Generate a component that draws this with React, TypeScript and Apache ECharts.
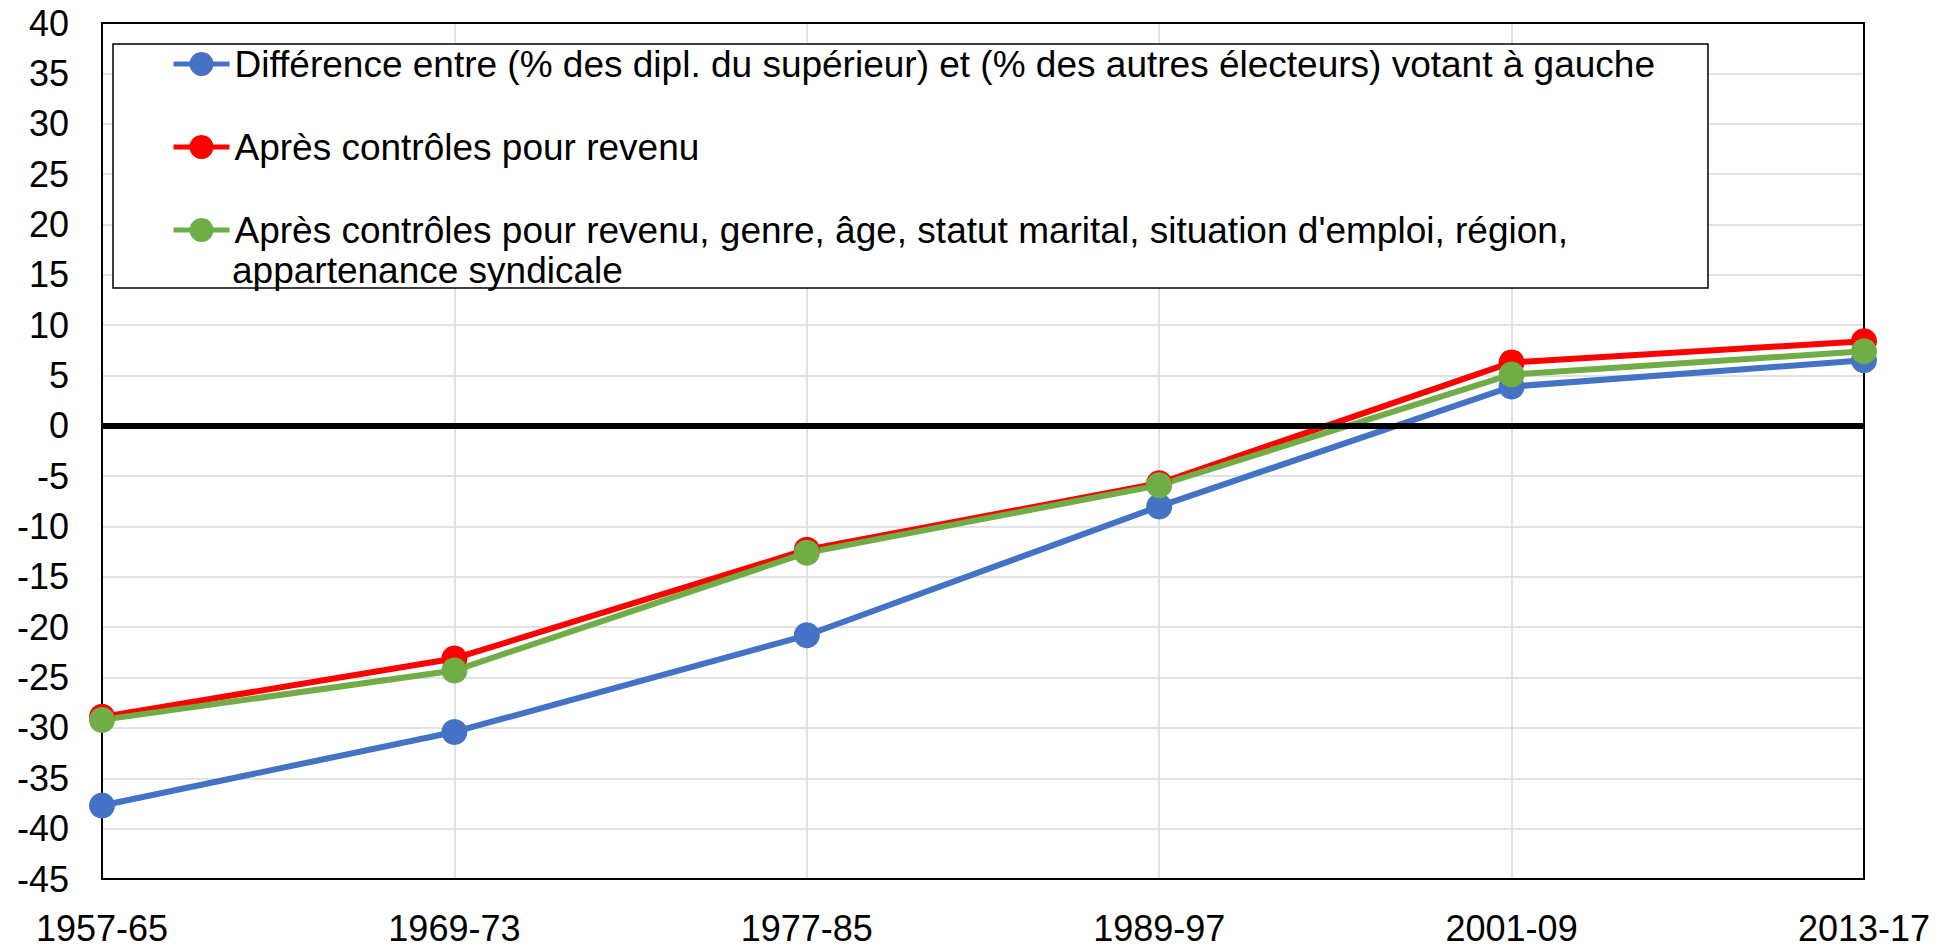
import React, { useEffect, useRef } from "react";
import * as echarts from "echarts";

const categories = ["1957-65", "1969-73", "1977-85", "1989-97", "2001-09", "2013-17"];
const blueValues = [-37.7, -30.4, -20.8, -8.0, 3.9, 6.5];
const redValues = [-28.9, -23.1, -12.3, -5.7, 6.3, 8.4];
const greenValues = [-29.2, -24.3, -12.6, -5.9, 5.1, 7.4];

const blueName = "Différence entre (% des dipl. du supérieur) et (% des autres électeurs) votant à gauche";
const redName = "Après contrôles pour revenu";
const greenName = "Après contrôles pour revenu, genre, âge, statut marital, situation d'emploi, région,";
const greenNameLine2 = "appartenance syndicale";

const FONT = "'Liberation Sans', Arial, sans-serif";

export default function App() {
  const ref = useRef<HTMLDivElement>(null);
  useEffect(() => {
    if (!ref.current) return;
    const chart = echarts.init(ref.current, null, { renderer: "svg" });
    const mkSeries = (name: string, data: number[], color: string, extra: any = {}) => ({
      name,
      type: "line",
      data,
      symbol: "circle",
      symbolSize: 26,
      lineStyle: { color, width: 6 },
      itemStyle: { color },
      ...extra,
    });
    chart.setOption({
      animation: false,
      backgroundColor: "#ffffff",
      textStyle: { fontFamily: FONT },
      grid: { left: 102, right: 89, top: 23, bottom: 72, show: true, borderColor: "#000", borderWidth: 2, backgroundColor: "transparent", z: 3 },
      xAxis: {
        type: "category",
        data: categories,
        boundaryGap: false,
        axisLine: { show: false },
        axisTick: { show: false },
        axisLabel: { color: "#000", fontSize: 36, fontFamily: FONT, margin: 33, lineHeight: 32 },
        splitLine: { show: true, showMinLine: false, showMaxLine: false, lineStyle: { color: "#D9D9D9", width: 1.5 } },
      },
      yAxis: {
        type: "value",
        min: -45,
        max: 40,
        interval: 5,
        axisLine: { show: false },
        axisTick: { show: false },
        axisLabel: { color: "#000", fontSize: 36, fontFamily: FONT, margin: 33 },
        splitLine: { show: true, showMinLine: false, showMaxLine: false, lineStyle: { color: "#D9D9D9", width: 1.5 } },
      },
      legend: {
        orient: "vertical",
        left: 113,
        top: 44,
        padding: [0, 53, 38, 58],
        itemGap: 43,
        itemWidth: 56,
        itemHeight: 30,
        backgroundColor: "#ffffff",
        borderColor: "#000",
        borderWidth: 1.5,
        lineStyle: { width: 5 },
        textStyle: { color: "#000", fontSize: 37, fontFamily: FONT, lineHeight: 40 },
        data: [blueName, redName, greenName],
      },
      graphic: [
        {
          type: "text",
          left: 232,
          top: 250,
          z: 100,
          style: { text: greenNameLine2, fill: "#000", font: `37px ${FONT}`, lineHeight: 40 },
        },
      ],
      series: [
        mkSeries(blueName, blueValues, "#4472C4", {
          markLine: {
            silent: true,
            symbol: "none",
            label: { show: false },
            lineStyle: { color: "#000", width: 6, type: "solid" },
            data: [{ yAxis: 0 }],
          },
        }),
        mkSeries(redName, redValues, "#FF0000"),
        mkSeries(greenName, greenValues, "#70AD47"),
      ],
    });
    return () => chart.dispose();
  }, []);
  return <div ref={ref} style={{ position: "fixed", left: 0, top: 0, width: 1953, height: 951 }} />;
}
